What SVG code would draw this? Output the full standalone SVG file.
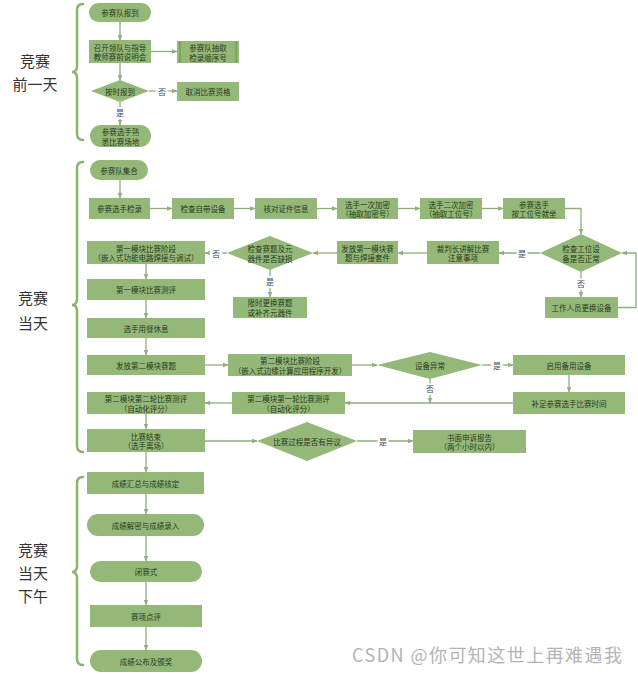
<svg xmlns="http://www.w3.org/2000/svg" width="638" height="674" viewBox="0 0 638 674">
<defs>
<marker id="ah" viewBox="0 0 10 10" refX="9" refY="5" markerWidth="6" markerHeight="6" orient="auto" markerUnits="userSpaceOnUse">
<path d="M0,1 L10,5 L0,9 Z" fill="#8fae7c"/>
</marker>
<style>
.b{fill:#94b878;}
.t{font-family:"Noto Sans CJK SC","Noto Sans",sans-serif;font-size:7.5px;fill:#2a3820;text-anchor:middle;dominant-baseline:central;}
.c{fill:none;stroke:#8fae7c;stroke-width:1.3;marker-end:url(#ah);}
.l{font-family:"Noto Sans CJK SC",sans-serif;font-size:8px;fill:#3a4a66;text-anchor:middle;dominant-baseline:central;paint-order:stroke;stroke:#fff;stroke-width:4px;}
.br{fill:none;stroke:#8db36c;stroke-width:2.5;stroke-linecap:round;}
.s{font-family:"Noto Sans CJK SC",sans-serif;font-size:15px;fill:#333;text-anchor:middle;dominant-baseline:central;}
</style>
</defs>
<rect width="638" height="674" fill="#fff"/>

<g id="braces">
<path class="br" d="M83,4 Q77,4 77,10 V66 Q77,72 72,72 Q77,72 77,78 V134 Q77,140 83,140"/>
<path class="br" d="M83,162 Q77,162 77,168 V299 Q77,305 72,305 Q77,305 77,311 V446 Q77,452 83,452"/>
<path class="br" d="M83,477 Q77,477 77,483 V566 Q77,572 72,572 Q77,572 77,578 V659 Q77,665 83,665"/>
</g>
<g id="section-labels">
<text class="s" x="35" y="60">竞赛</text>
<text class="s" x="35" y="83">前一天</text>
<text class="s" x="33" y="297">竞赛</text>
<text class="s" x="33" y="322">当天</text>
<text class="s" x="33" y="549">竞赛</text>
<text class="s" x="33" y="572">当天</text>
<text class="s" x="33" y="595">下午</text>
</g>

<g id="connectors">
<path class="c" d="M120,22 V40"/>
<path class="c" d="M151,51.5 H177"/>
<path class="c" d="M120,63 V80"/>
<path class="c" d="M149,91 H177"/>
<path class="c" d="M120,102 V125"/>
<path class="c" d="M120,180 V198"/>
<path class="c" d="M150,208.5 H172"/>
<path class="c" d="M234,208.5 H255"/>
<path class="c" d="M317,208.5 H337"/>
<path class="c" d="M398,208.5 H420"/>
<path class="c" d="M482,208.5 H503"/>
<path class="c" d="M565,208.5 H581 V234"/>
<path class="c" d="M540,253 H499"/>
<path class="c" d="M581,272 V297"/>
<path class="c" d="M618,307.5 H636 V253 H622"/>
<path class="c" d="M427,253 H398"/>
<path class="c" d="M337,253 H313"/>
<path class="c" d="M227,253 H205"/>
<path class="c" d="M270,270 V297"/>
<path class="c" d="M146,264 V279"/>
<path class="c" d="M146,300 V318"/>
<path class="c" d="M146,338 V355"/>
<path class="c" d="M205,365 H228"/>
<path class="c" d="M352,365 H377"/>
<path class="c" d="M482,365 H513"/>
<path class="c" d="M569,375 V392"/>
<path class="c" d="M430,379 V403"/>
<path class="c" d="M513,403 H345"/>
<path class="c" d="M232,403 H205"/>
<path class="c" d="M146,414 V429"/>
<path class="c" d="M205,441 H257"/>
<path class="c" d="M357,441 H413"/>
<path class="c" d="M146,452 V472"/>
<path class="c" d="M146,494 V514"/>
<path class="c" d="M146,536 V561"/>
<path class="c" d="M146,582 V605"/>
<path class="c" d="M146,627 V650"/>
<text class="l" x="162" y="91">否</text>
<text class="l" x="120" y="112">是</text>
<text class="l" x="522" y="253">是</text>
<text class="l" x="581" y="283">否</text>
<text class="l" x="216" y="253">否</text>
<text class="l" x="270" y="281">是</text>
<text class="l" x="497" y="365">是</text>
<text class="l" x="430" y="388">否</text>
<text class="l" x="383" y="441">是</text>
</g>

<g id="n1"><rect class="b" x="89" y="3" width="62" height="19" rx="9.5"/><text class="t" x="120" y="12.5">参赛队报到</text></g>
<g id="n2"><rect class="b" x="89" y="40" width="62" height="23"/><text class="t" x="120" y="47">召开领队与指导</text><text class="t" x="120" y="56.5">教师赛前说明会</text></g>
<g id="n3"><rect class="b" x="177" y="41" width="62" height="22"/><path d="M180,41 V63 M236,41 V63" stroke="#7ca560" stroke-width="2"/><text class="t" x="208" y="47.5">参赛队抽取</text><text class="t" x="208" y="57">检录顺序号</text></g>
<g id="d1"><polygon class="b" points="91,91 120,80 149,91 120,102"/><text class="t" x="120" y="91">按时报到</text></g>
<g id="n4"><rect class="b" x="177" y="82" width="62" height="19"/><text class="t" x="208" y="91.5">取消比赛资格</text></g>
<g id="n5"><rect class="b" x="90" y="125" width="61" height="22" rx="11"/><text class="t" x="120.5" y="131.5">参赛选手熟</text><text class="t" x="120.5" y="141">悉比赛场地</text></g>

<g id="m1"><rect class="b" x="90" y="160" width="58" height="20" rx="10"/><text class="t" x="119" y="170">参赛队集合</text></g>
<g id="m2"><rect class="b" x="89" y="198" width="61" height="21"/><text class="t" x="119.5" y="208.5">参赛选手检录</text></g>
<g id="m3"><rect class="b" x="172" y="198" width="62" height="21"/><text class="t" x="203" y="208.5">检查自带设备</text></g>
<g id="m4"><rect class="b" x="255" y="198" width="62" height="21"/><text class="t" x="286" y="208.5">核对证件信息</text></g>
<g id="m5"><rect class="b" x="337" y="198" width="61" height="21"/><text class="t" x="367.5" y="204">选手一次加密</text><text class="t" x="367.5" y="213.5">（抽取加密号）</text></g>
<g id="m6"><rect class="b" x="420" y="198" width="62" height="21"/><text class="t" x="451" y="204">选手二次加密</text><text class="t" x="451" y="213.5">（抽取工位号）</text></g>
<g id="m7"><rect class="b" x="503" y="198" width="62" height="21"/><text class="t" x="534" y="204">参赛选手</text><text class="t" x="534" y="213.5">按工位号就坐</text></g>
<g id="d2"><polygon class="b" points="540,253 581,234 622,253 581,272"/><text class="t" x="581" y="248.5">检查工位设</text><text class="t" x="581" y="258">备是否正常</text></g>
<g id="m8"><rect class="b" x="545" y="297" width="73" height="21"/><text class="t" x="581.5" y="307.5">工作人员更换设备</text></g>
<g id="m9"><rect class="b" x="427" y="241" width="72" height="23"/><text class="t" x="463" y="248">裁判长讲解比赛</text><text class="t" x="463" y="257.5">注意事项</text></g>
<g id="m10"><rect class="b" x="337" y="241" width="61" height="23"/><text class="t" x="367.5" y="248">发放第一模块赛</text><text class="t" x="367.5" y="257.5">题与焊接套件</text></g>
<g id="d3"><polygon class="b" points="227,253 270,236 313,253 270,270"/><text class="t" x="270" y="248.5">检查赛题及元</text><text class="t" x="270" y="258">器件是否缺损</text></g>
<g id="m11"><rect class="b" x="233" y="297" width="74" height="21"/><text class="t" x="270" y="302.5">限时更换赛题</text><text class="t" x="270" y="312">或补齐元器件</text></g>
<g id="m12"><rect class="b" x="87" y="241" width="118" height="23"/><text class="t" x="146" y="248">第一模块比赛阶段</text><text class="t" x="146" y="257.5">（嵌入式功能电路焊接与调试）</text></g>
<g id="m13"><rect class="b" x="87" y="279" width="118" height="21"/><text class="t" x="146" y="289.5">第一模块比赛测评</text></g>
<g id="m14"><rect class="b" x="87" y="318" width="118" height="20"/><text class="t" x="146" y="328">选手用餐休息</text></g>
<g id="m15"><rect class="b" x="87" y="355" width="118" height="20"/><text class="t" x="146" y="365">发放第二模块赛题</text></g>
<g id="m16"><rect class="b" x="228" y="354" width="124" height="22"/><text class="t" x="290" y="360.5">第二模块比赛阶段</text><text class="t" x="290" y="370">（嵌入式边缘计算应用程序开发）</text></g>
<g id="d4"><polygon class="b" points="377,365 430,352 482,365 430,379"/><text class="t" x="430" y="365">设备异常</text></g>
<g id="m17"><rect class="b" x="513" y="355" width="112" height="20"/><text class="t" x="569" y="365">启用备用设备</text></g>
<g id="m18"><rect class="b" x="513" y="392" width="112" height="22"/><text class="t" x="569" y="403">补足参赛选手比赛时间</text></g>
<g id="m19"><rect class="b" x="232" y="392" width="113" height="22"/><text class="t" x="288.5" y="398.5">第二模块第一轮比赛测评</text><text class="t" x="288.5" y="408">（自动化评分）</text></g>
<g id="m20"><rect class="b" x="87" y="392" width="118" height="22"/><text class="t" x="146" y="398.5">第二模块第二轮比赛测评</text><text class="t" x="146" y="408">（自动化评分）</text></g>
<g id="m21"><rect class="b" x="87" y="429" width="118" height="23"/><text class="t" x="146" y="436">比赛结束</text><text class="t" x="146" y="445.5">（选手离场）</text></g>
<g id="d5"><polygon class="b" points="257,441 307,422 357,441 307,461"/><text class="t" x="307" y="441">比赛过程是否有异议</text></g>
<g id="m22"><rect class="b" x="413" y="430" width="113" height="23"/><text class="t" x="469.5" y="437">书面申诉报告</text><text class="t" x="469.5" y="446.5">（两个小时以内）</text></g>

<g id="b1"><rect class="b" x="87" y="472" width="117" height="22"/><text class="t" x="145.5" y="483">成绩汇总与成绩核定</text></g>
<g id="b2"><rect class="b" x="87" y="514" width="117" height="22" rx="11"/><text class="t" x="145.5" y="525">成绩解密与成绩录入</text></g>
<g id="b3"><rect class="b" x="90" y="561" width="112" height="21" rx="10.5"/><text class="t" x="146" y="571.5">闭赛式</text></g>
<g id="b4"><rect class="b" x="90" y="605" width="112" height="22"/><text class="t" x="146" y="616">赛项点评</text></g>
<g id="b5"><rect class="b" x="90" y="650" width="112" height="22" rx="11"/><text class="t" x="146" y="661">成绩公布及颁奖</text></g>

<text x="352" y="662" textLength="270" font-family="Noto Sans CJK SC, sans-serif" font-size="18" fill="#b4b4b4">CSDN @你可知这世上再难遇我</text>
</svg>
